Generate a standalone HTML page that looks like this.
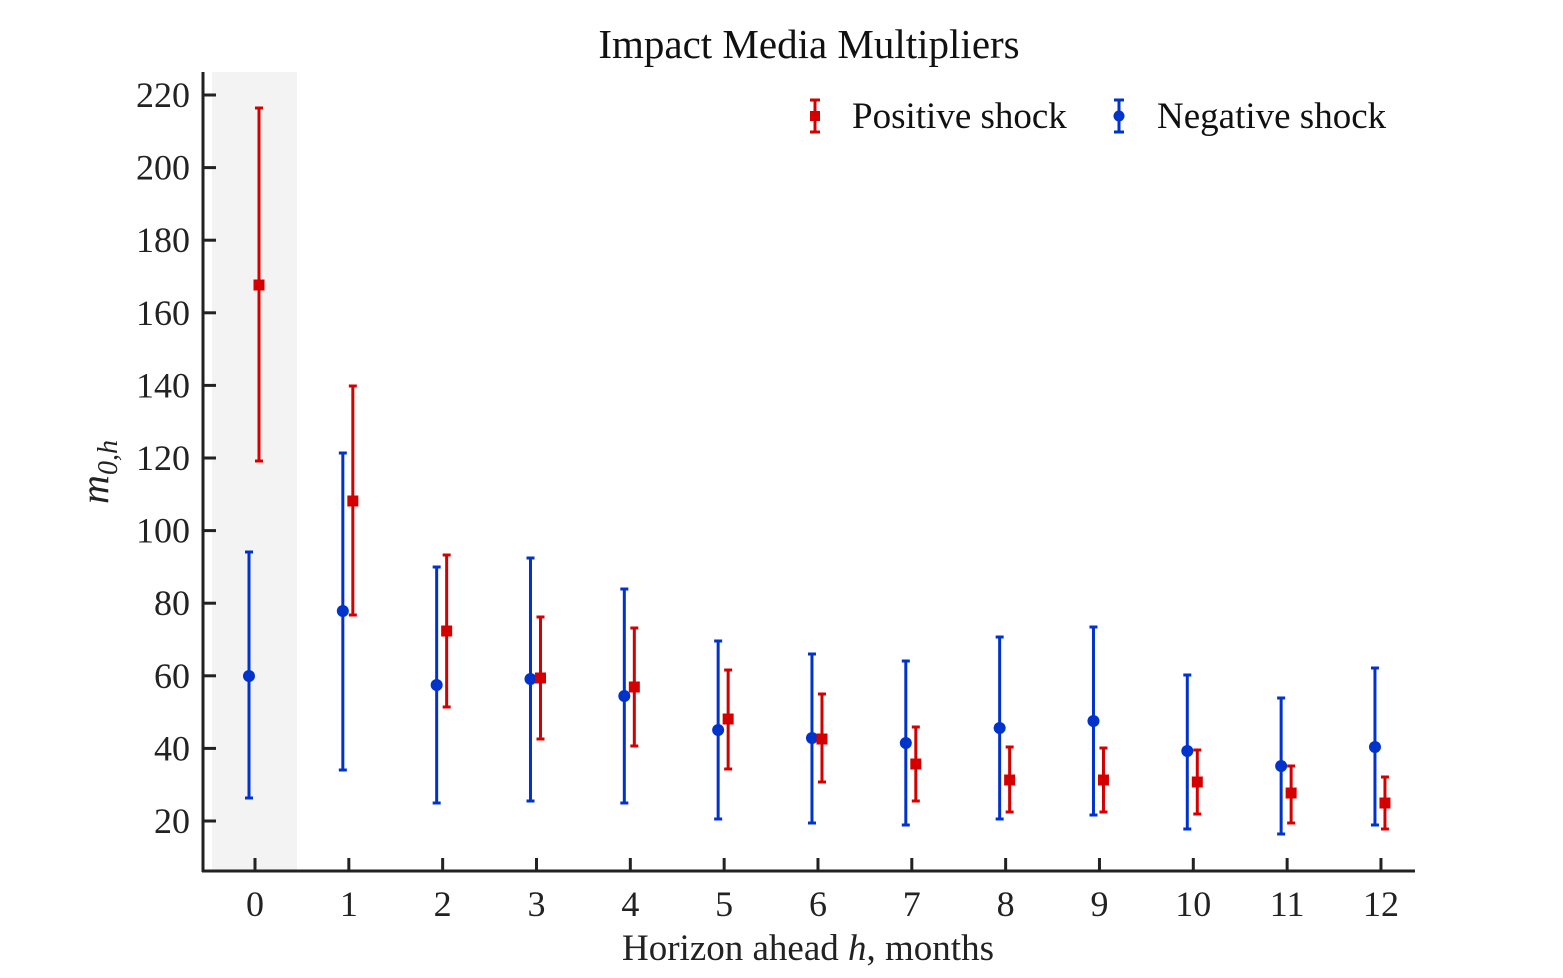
<!DOCTYPE html>
<html><head><meta charset="utf-8"><style>
html,body{margin:0;padding:0;background:#fff;}
svg{display:block;font-family:"Liberation Serif",serif;}
</style></head><body>
<svg width="1563" height="978" viewBox="0 0 1563 978" xmlns="http://www.w3.org/2000/svg">
<rect x="212" y="72" width="85" height="799" fill="#f3f3f3"/>
<text x="809" y="58" font-size="41" text-anchor="middle" fill="#111">Impact Media Multipliers</text>
<g id="data"></g>
<line x1="203" y1="72" x2="203" y2="872" stroke="#222" stroke-width="3"/>
<line x1="202" y1="871" x2="1415" y2="871" stroke="#222" stroke-width="3"/>
<g id="ticks" stroke="#222" stroke-width="3"></g>
<g id="labels" font-size="36" fill="#222"></g>
<text x="808" y="960" font-size="37" text-anchor="middle" fill="#222">Horizon ahead <tspan font-style="italic">h</tspan>, months</text>
<text transform="translate(108,472) rotate(-90)" font-size="40" font-style="italic" text-anchor="middle" fill="#222">m<tspan font-size="28" dy="9">0,h</tspan></text>
<g>
<line x1="815" y1="100" x2="815" y2="132" stroke="#d40000" stroke-width="3"/>
<line x1="810" y1="100" x2="820" y2="100" stroke="#d40000" stroke-width="3"/>
<line x1="810" y1="132" x2="820" y2="132" stroke="#d40000" stroke-width="3"/>
<rect x="810" y="111" width="10" height="10" fill="#d40000"/>
<text x="852" y="128" font-size="37" fill="#111">Positive shock</text>
<line x1="1119" y1="100" x2="1119" y2="132" stroke="#0033cc" stroke-width="3"/>
<line x1="1114" y1="100" x2="1124" y2="100" stroke="#0033cc" stroke-width="3"/>
<line x1="1114" y1="132" x2="1124" y2="132" stroke="#0033cc" stroke-width="3"/>
<circle cx="1119" cy="116" r="5.5" fill="#0033cc"/>
<text x="1157" y="128" font-size="37" fill="#111">Negative shock</text>
</g>
</svg>
<script>
const NS="http://www.w3.org/2000/svg";
function el(t,a,p){const e=document.createElementNS(NS,t);for(const k in a)e.setAttribute(k,a[k]);p.appendChild(e);return e;}
const ticks=document.getElementById('ticks'),labels=document.getElementById('labels'),data=document.getElementById('data');
const X=h=>255+h*93.83;
for(let h=0;h<=12;h++){el('line',{x1:X(h),y1:871,x2:X(h),y2:858},ticks);const t=el('text',{x:X(h),y:916,'text-anchor':'middle'},labels);t.textContent=h;}
for(let v=20;v<=220;v+=20){const y=821-(v-20)*3.63;el('line',{x1:203,y1:y,x2:216,y2:y},ticks);const t=el('text',{x:190,y:y+12,'text-anchor':'end'},labels);t.textContent=v;}
const red=[[285,108,461],[501,386,615],[631,555,707],[678,617,739],[687,628,746],[719,670,769],[739,694,782],[764,727,801],[780,747,812],[780,748,812],[782,750,814],[793,766,823],[803,777,829]];
const blue=[[676,552,798],[611,453,770],[685,567,803],[679,558,801],[696,589,803],[730,641,819],[738,654,823],[743,661,825],[728,637,819],[721,627,815],[751,675,829],[766,698,834],[747,668,825]];
function series(d,off,c,sq){d.forEach((p,h)=>{const x=X(h)+off;
el('line',{x1:x,y1:p[1],x2:x,y2:p[2],stroke:c,'stroke-width':3},data);
el('line',{x1:x-4,y1:p[1],x2:x+4,y2:p[1],stroke:c,'stroke-width':3},data);
el('line',{x1:x-4,y1:p[2],x2:x+4,y2:p[2],stroke:c,'stroke-width':3},data);
if(sq)el('rect',{x:x-5.5,y:p[0]-5.5,width:11,height:11,fill:c},data);else el('circle',{cx:x,cy:p[0],r:6,fill:c},data);});}
series(blue,-6,'#0033cc',false);
series(red,4,'#d40000',true);
</script>
</body></html>
